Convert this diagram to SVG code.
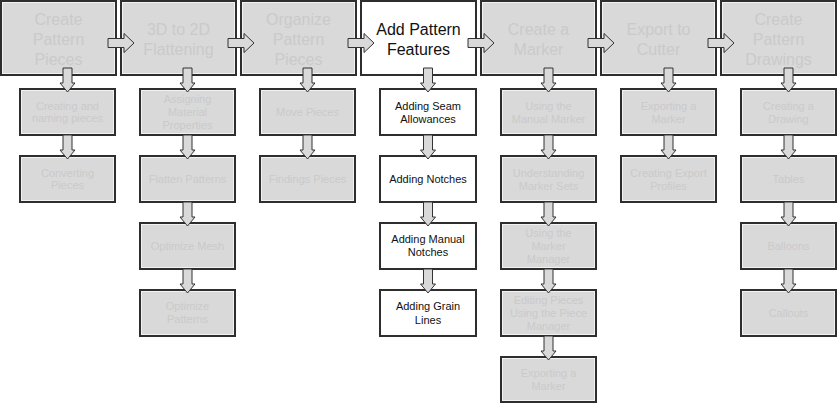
<svg xmlns="http://www.w3.org/2000/svg" width="838" height="404" viewBox="0 0 838 404">
<style>
.box{fill:#d9d9d9;stroke:#2e2e2e;stroke-width:2}
.act{fill:#ffffff;stroke:#2e2e2e;stroke-width:2}
.inner{fill:none;stroke:#f2f2f2;stroke-width:1}
.t{font-family:"Liberation Sans",Arial,sans-serif;text-anchor:middle}
.big{font-size:16px}
.sm{font-size:11px}
.g{fill:#cacaca}
.k{fill:#111111}
.arr{fill:#d9d9d9;stroke:#333333;stroke-width:1;stroke-linejoin:miter}
</style>
<rect width="838" height="404" fill="#ffffff"/>
<defs>
<path id="ha" d="M0,-4.5 H16 V-9.5 L26,0 L16,9.5 V4.5 H0 Z"/>
<path id="va" d="M-4.5,0 V15 H-7.5 L0,24 L7.5,15 H4.5 V0 Z"/>
</defs>

<g id="node-create-pattern-pieces">
<rect class="box" x="1" y="1" width="115" height="74"/><rect class="inner" x="2.5" y="2.5" width="112" height="71"/>
<text class="t big g"><tspan x="58.5" y="25">Create</tspan><tspan x="58.5" y="45">Pattern</tspan><tspan x="58.5" y="65">Pieces</tspan></text>
</g>
<g id="node-flattening">
<rect class="box" x="121" y="1" width="115" height="74"/><rect class="inner" x="122.5" y="2.5" width="112" height="71"/>
<text class="t big g"><tspan x="178.5" y="35">3D to 2D</tspan><tspan x="178.5" y="55">Flattening</tspan></text>
</g>
<g id="node-organize">
<rect class="box" x="241" y="1" width="115" height="74"/><rect class="inner" x="242.5" y="2.5" width="112" height="71"/>
<text class="t big g"><tspan x="298.5" y="25">Organize</tspan><tspan x="298.5" y="45">Pattern</tspan><tspan x="298.5" y="65">Pieces</tspan></text>
</g>
<g id="node-add-features">
<rect class="act" x="361" y="1" width="115" height="74"/>
<text class="t big k"><tspan x="418.5" y="35">Add Pattern</tspan><tspan x="418.5" y="55">Features</tspan></text>
</g>
<g id="node-create-marker">
<rect class="box" x="481" y="1" width="115" height="74"/><rect class="inner" x="482.5" y="2.5" width="112" height="71"/>
<text class="t big g"><tspan x="538.5" y="35">Create a</tspan><tspan x="538.5" y="55">Marker</tspan></text>
</g>
<g id="node-export-cutter">
<rect class="box" x="601" y="1" width="115" height="74"/><rect class="inner" x="602.5" y="2.5" width="112" height="71"/>
<text class="t big g"><tspan x="658.5" y="35">Export to</tspan><tspan x="658.5" y="55">Cutter</tspan></text>
</g>
<g id="node-drawings">
<rect class="box" x="721" y="1" width="115" height="74"/><rect class="inner" x="722.5" y="2.5" width="112" height="71"/>
<text class="t big g"><tspan x="778.5" y="25">Create</tspan><tspan x="778.5" y="45">Pattern</tspan><tspan x="778.5" y="65">Drawings</tspan></text>
</g>

<!-- column 1 -->
<g id="node-c1-1"><rect class="box" x="20" y="89" width="95" height="46"/><rect class="inner" x="21.5" y="90.5" width="92" height="43"/>
<text class="t sm g"><tspan x="67.5" y="110">Creating and</tspan><tspan x="67.5" y="122">naming pieces</tspan></text></g>
<g id="node-c1-2"><rect class="box" x="20" y="156" width="95" height="46"/><rect class="inner" x="21.5" y="157.5" width="92" height="43"/>
<text class="t sm g"><tspan x="67.5" y="177">Converting</tspan><tspan x="67.5" y="189">Pieces</tspan></text></g>

<!-- column 2 -->
<g id="node-c2-1"><rect class="box" x="140" y="89" width="95" height="46"/><rect class="inner" x="141.5" y="90.5" width="92" height="43"/>
<text class="t sm g"><tspan x="187.5" y="103">Assigning</tspan><tspan x="187.5" y="116">Material</tspan><tspan x="187.5" y="129">Properties</tspan></text></g>
<g id="node-c2-2"><rect class="box" x="140" y="156" width="95" height="46"/><rect class="inner" x="141.5" y="157.5" width="92" height="43"/>
<text class="t sm g"><tspan x="187.5" y="183">Flatten Patterns</tspan></text></g>
<g id="node-c2-3"><rect class="box" x="140" y="223" width="95" height="46"/><rect class="inner" x="141.5" y="224.5" width="92" height="43"/>
<text class="t sm g"><tspan x="187.5" y="250">Optimize Mesh</tspan></text></g>
<g id="node-c2-4"><rect class="box" x="140" y="290" width="95" height="46"/><rect class="inner" x="141.5" y="291.5" width="92" height="43"/>
<text class="t sm g"><tspan x="187.5" y="310">Optimize</tspan><tspan x="187.5" y="323">Patterns</tspan></text></g>

<!-- column 3 -->
<g id="node-c3-1"><rect class="box" x="260" y="89" width="95" height="46"/><rect class="inner" x="261.5" y="90.5" width="92" height="43"/>
<text class="t sm g"><tspan x="307.5" y="116">Move Pieces</tspan></text></g>
<g id="node-c3-2"><rect class="box" x="260" y="156" width="95" height="46"/><rect class="inner" x="261.5" y="157.5" width="92" height="43"/>
<text class="t sm g"><tspan x="307.5" y="183">Findings Pieces</tspan></text></g>

<!-- column 4 (active) -->
<g id="node-c4-1"><rect class="act" x="380" y="89" width="96" height="46"/>
<text class="t sm k"><tspan x="428" y="110">Adding Seam</tspan><tspan x="428" y="123">Allowances</tspan></text></g>
<g id="node-c4-2"><rect class="act" x="380" y="156" width="96" height="46"/>
<text class="t sm k"><tspan x="428" y="183">Adding Notches</tspan></text></g>
<g id="node-c4-3"><rect class="act" x="380" y="223" width="96" height="46"/>
<text class="t sm k"><tspan x="428" y="243">Adding Manual</tspan><tspan x="428" y="256">Notches</tspan></text></g>
<g id="node-c4-4"><rect class="act" x="380" y="290" width="96" height="46"/>
<text class="t sm k"><tspan x="428" y="310">Adding Grain</tspan><tspan x="428" y="324">Lines</tspan></text></g>

<!-- column 5 -->
<g id="node-c5-1"><rect class="box" x="501" y="89" width="95" height="46"/><rect class="inner" x="502.5" y="90.5" width="92" height="43"/>
<text class="t sm g"><tspan x="548.5" y="110">Using the</tspan><tspan x="548.5" y="123">Manual Marker</tspan></text></g>
<g id="node-c5-2"><rect class="box" x="501" y="156" width="95" height="46"/><rect class="inner" x="502.5" y="157.5" width="92" height="43"/>
<text class="t sm g"><tspan x="548.5" y="177">Understanding</tspan><tspan x="548.5" y="190">Marker Sets</tspan></text></g>
<g id="node-c5-3"><rect class="box" x="501" y="223" width="95" height="46"/><rect class="inner" x="502.5" y="224.5" width="92" height="43"/>
<text class="t sm g"><tspan x="548.5" y="237">Using the</tspan><tspan x="548.5" y="250">Marker</tspan><tspan x="548.5" y="263">Manager</tspan></text></g>
<g id="node-c5-4"><rect class="box" x="501" y="290" width="95" height="46"/><rect class="inner" x="502.5" y="291.5" width="92" height="43"/>
<text class="t sm g"><tspan x="548.5" y="304">Editing Pieces</tspan><tspan x="548.5" y="317">Using the Piece</tspan><tspan x="548.5" y="330">Manager</tspan></text></g>
<g id="node-c5-5"><rect class="box" x="501" y="357" width="95" height="45"/><rect class="inner" x="502.5" y="358.5" width="92" height="42"/>
<text class="t sm g"><tspan x="548.5" y="377">Exporting a</tspan><tspan x="548.5" y="390">Marker</tspan></text></g>

<!-- column 6 -->
<g id="node-c6-1"><rect class="box" x="621" y="89" width="95" height="46"/><rect class="inner" x="622.5" y="90.5" width="92" height="43"/>
<text class="t sm g"><tspan x="668.5" y="110">Exporting a</tspan><tspan x="668.5" y="123">Marker</tspan></text></g>
<g id="node-c6-2"><rect class="box" x="621" y="156" width="95" height="46"/><rect class="inner" x="622.5" y="157.5" width="92" height="43"/>
<text class="t sm g"><tspan x="668.5" y="177">Creating Export</tspan><tspan x="668.5" y="190">Profiles</tspan></text></g>

<!-- column 7 -->
<g id="node-c7-1"><rect class="box" x="741" y="89" width="95" height="46"/><rect class="inner" x="742.5" y="90.5" width="92" height="43"/>
<text class="t sm g"><tspan x="788.5" y="110">Creating a</tspan><tspan x="788.5" y="123">Drawing</tspan></text></g>
<g id="node-c7-2"><rect class="box" x="741" y="156" width="95" height="46"/><rect class="inner" x="742.5" y="157.5" width="92" height="43"/>
<text class="t sm g"><tspan x="788.5" y="183">Tables</tspan></text></g>
<g id="node-c7-3"><rect class="box" x="741" y="223" width="95" height="46"/><rect class="inner" x="742.5" y="224.5" width="92" height="43"/>
<text class="t sm g"><tspan x="788.5" y="250">Balloons</tspan></text></g>
<g id="node-c7-4"><rect class="box" x="741" y="290" width="95" height="46"/><rect class="inner" x="742.5" y="291.5" width="92" height="43"/>
<text class="t sm g"><tspan x="788.5" y="317">Callouts</tspan></text></g>

<g id="connectors">
<use href="#ha" class="arr" x="108" y="43"/>
<use href="#ha" class="arr" x="228" y="43"/>
<use href="#ha" class="arr" x="348" y="43"/>
<use href="#ha" class="arr" x="468" y="43"/>
<use href="#ha" class="arr" x="588" y="43"/>
<use href="#ha" class="arr" x="708" y="43"/>
<use href="#va" class="arr" x="67.5" y="68"/>
<use href="#va" class="arr" x="67.5" y="135"/>
<use href="#va" class="arr" x="187.5" y="68"/>
<use href="#va" class="arr" x="187.5" y="135"/>
<use href="#va" class="arr" x="187.5" y="202"/>
<use href="#va" class="arr" x="187.5" y="269"/>
<use href="#va" class="arr" x="307.5" y="68"/>
<use href="#va" class="arr" x="307.5" y="135"/>
<use href="#va" class="arr" x="428" y="68"/>
<use href="#va" class="arr" x="428" y="135"/>
<use href="#va" class="arr" x="428" y="202"/>
<use href="#va" class="arr" x="428" y="269"/>
<use href="#va" class="arr" x="548.5" y="68"/>
<use href="#va" class="arr" x="548.5" y="135"/>
<use href="#va" class="arr" x="548.5" y="202"/>
<use href="#va" class="arr" x="548.5" y="269"/>
<use href="#va" class="arr" x="548.5" y="336"/>
<use href="#va" class="arr" x="668.5" y="68"/>
<use href="#va" class="arr" x="668.5" y="135"/>
<use href="#va" class="arr" x="788.5" y="68"/>
<use href="#va" class="arr" x="788.5" y="135"/>
<use href="#va" class="arr" x="788.5" y="202"/>
<use href="#va" class="arr" x="788.5" y="269"/>
</g>
</svg>
